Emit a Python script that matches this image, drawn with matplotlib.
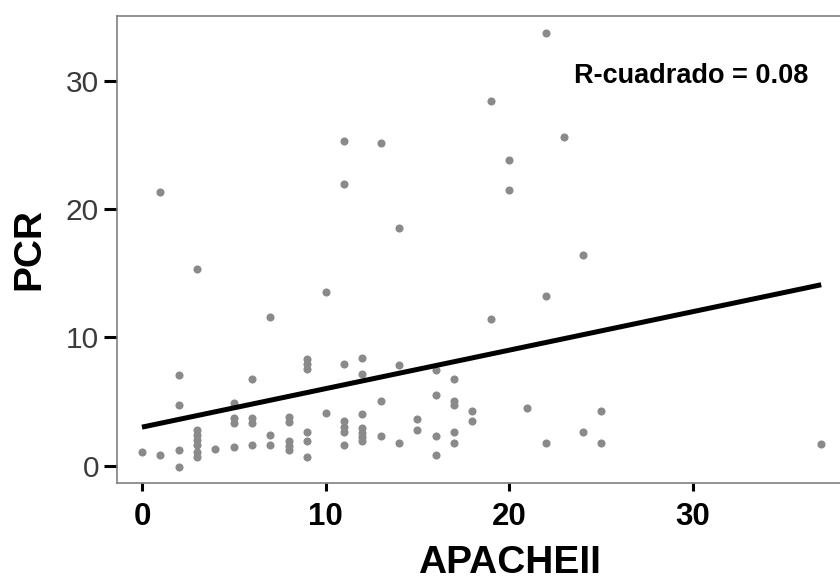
import numpy as np
import matplotlib
matplotlib.use('Agg')
import matplotlib.pyplot as plt

plt.rcParams['font.family'] = ['Liberation Sans', 'DejaVu Sans']

# APACHE II score vs PCR
apache = [0,
          1, 1,
          2, 2, 2, 2,
          3, 3, 3, 3, 3, 3, 3,
          4,
          5, 5, 5, 5,
          6, 6, 6, 6,
          7, 7, 7,
          8, 8, 8, 8, 8,
          9, 9, 9, 9, 9, 9,
          10, 10,
          11, 11, 11, 11, 11, 11, 11,
          12, 12, 12, 12, 12, 12, 12,
          13, 13, 13,
          14, 14, 14,
          15, 15,
          16, 16, 16, 16,
          17, 17, 17, 17, 17,
          18, 18,
          19, 19,
          20, 20,
          21,
          22, 22, 22,
          23,
          24, 24,
          25, 25,
          37]
pcr = [1.05,
       0.8, 21.3,
       7.1, 4.7, 1.2, -0.1,
       15.3, 2.8, 2.4, 2.0, 1.6, 1.1, 0.7,
       1.3,
       4.9, 3.75, 3.3, 1.45,
       6.75, 3.75, 3.35, 1.6,
       11.6, 2.4, 1.6,
       3.8, 3.4, 1.9, 1.5, 1.2,
       8.3, 7.9, 7.5, 2.65, 1.9, 0.65,
       13.5, 4.1,
       25.3, 21.95, 7.95, 3.45, 3.0, 2.6, 1.6,
       8.4, 7.15, 4.05, 2.95, 2.55, 2.2, 1.9,
       25.15, 5.0, 2.3,
       18.5, 7.85, 1.8,
       3.6, 2.8,
       7.45, 5.5, 2.3, 0.85,
       6.75, 5.0, 4.75, 2.6, 1.8,
       4.25, 3.45,
       28.4, 11.45,
       23.85, 21.45,
       4.5,
       33.7, 13.25, 1.8,
       25.65,
       16.45, 2.6,
       4.25, 1.8,
       1.65]

# fitted line as printed on the chart
fit_intercept = 3.0
fit_slope = 0.30
r2_text = 'R-cuadrado = 0.08'

x_ticks = [0, 10, 20, 30]
y_ticks = [0, 10, 20, 30]

fig = plt.figure(figsize=(8.4, 5.84), dpi=100)
ax = fig.add_axes([117 / 840, (584 - 482.7) / 584, 785 / 840, 467 / 584])

ax.scatter(apache, pcr, s=34, marker='o', color='#8a8a8a', linewidths=0, zorder=2)

xs = np.array([min(apache), max(apache)])
ax.plot(xs, fit_intercept + fit_slope * xs, color='black', lw=3.6,
        solid_capstyle='butt', zorder=3)

ax.text(23.55, 29.8, r2_text, fontsize=19.5, fontweight='bold',
        ha='left', va='baseline')

ax.set_xlim(-1.36, 41.4)
ax.set_ylim(-1.33, 35.07)
ax.set_xticks(x_ticks)
ax.set_yticks(y_ticks)

for s in ax.spines.values():
    s.set_color('#808080')
    s.set_linewidth(1.2)
ax.spines['right'].set_visible(False)

ax.tick_params(axis='x', length=6, width=2.2, color='black', pad=8,
               labelsize=22.5)
ax.tick_params(axis='y', length=9.4, width=2.2, color='black', pad=3.5,
               labelsize=21.5, labelcolor='#3a3a3a')
for lab in ax.get_xticklabels():
    lab.set_fontweight('bold')

ax.set_xlabel('APACHEII', fontsize=28, fontweight='bold')
ax.set_ylabel('PCR', fontsize=28, fontweight='bold')
ax.xaxis.set_label_coords(0.5, -0.172)
ax.xaxis.label.set_va('center')
ax.yaxis.set_label_coords(-0.112, 0.5)
ax.yaxis.label.set_va('center')

fig.savefig('out.png', dpi=100)
